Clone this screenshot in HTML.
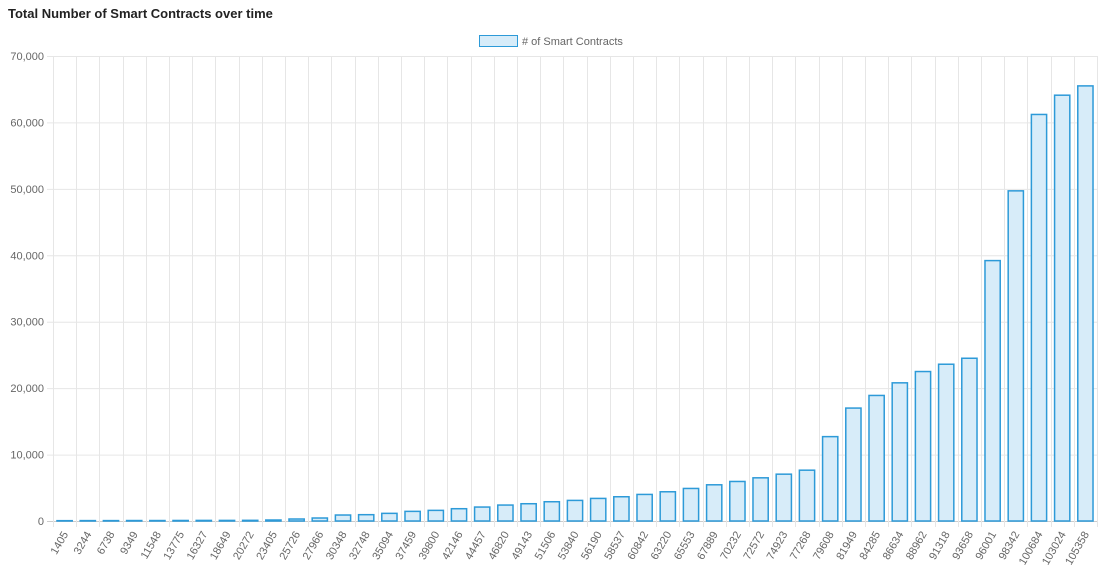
<!DOCTYPE html>
<html><head><meta charset="utf-8"><style>
body{margin:0;background:#fff;font-family:"Liberation Sans",sans-serif}
svg text{font-family:"Liberation Sans",sans-serif}
</style></head><body>
<svg id="chart" width="1100" height="568" xmlns="http://www.w3.org/2000/svg">
<text x="8" y="18" font-size="13" font-weight="bold" fill="#222">Total Number of Smart Contracts over time</text>
<g>
<rect x="479.5" y="35.5" width="38" height="11" fill="#d7ecf9" stroke="#2d9ad8" stroke-width="1"/>
<text x="522" y="45" font-size="11" fill="#666"># of Smart Contracts</text>
</g>
<g id="grid"></g><g id="bars"></g><g id="axes"></g>
</svg>
<script>
const categories=["1405","3244","6738","9349","11548","13775","16327","18649","20272","23405","25726","27966","30348","32748","35094","37459","39800","42146","44457","46820","49143","51506","53840","56190","58537","60842","63220","65553","67889","70232","72572","74923","77268","79608","81949","84285","86634","88962","91318","93658","96001","98342","100684","103024","105358"];
const values=[50,60,60,70,70,80,90,90,100,150,300,450,900,950,1150,1450,1600,1850,2100,2400,2600,2900,3100,3400,3650,4000,4400,4900,5450,5950,6500,7050,7650,12700,17000,18900,20800,22500,23600,24500,39200,49700,61200,64100,65500];
const yTicks=[0,10000,20000,30000,40000,50000,60000,70000];
const yTickLabels=["0","10,000","20,000","30,000","40,000","50,000","60,000","70,000"];
const NS="http://www.w3.org/2000/svg";
const L=53,R=1097,T=56,B=521,yMax=70000;
const y=v=>B-(v/yMax)*(B-T);
const bw=(R-L)/categories.length;
const x=i=>L+i*bw;
function mk(t,a,p){const e=document.createElementNS(NS,t);for(const k in a)e.setAttribute(k,a[k]);p.appendChild(e);return e;}
const g=document.getElementById('grid'),b=document.getElementById('bars'),ax=document.getElementById('axes');
yTicks.forEach((v,i)=>{
 const ln=mk('line',{x1:L-6,x2:R,y1:y(v)+.5,y2:y(v)+.5,stroke:i==0?'#ccc':'#e6e6e6'},g);
 
 
 const t=mk('text',{x:L-9,y:y(v)+4,'text-anchor':'end','font-size':11,fill:'#666'},ax);
 t.textContent=yTickLabels[i];
 
 
});
for(let i=0;i<=categories.length;i++){
 const ln=mk('line',{x1:Math.round(x(i))+.5,x2:Math.round(x(i))+.5,y1:T,y2:B+6,stroke:'#e6e6e6'},g);
 
 
}
categories.forEach((c,i)=>{
 const w=bw*0.7,bx=x(i)+(bw-w)/2,top=y(values[i]);
 const r=mk('rect',{x:bx+.5,y:top,width:w-1,height:Math.max(B-top,0),fill:'#d7ecf9',stroke:'#2d9ad8','stroke-width':1.5},b);
 
 
 const cx=x(i)+bw/2+4;
 const t=mk('text',{x:cx,y:B+13,'text-anchor':'end','font-size':11,fill:'#666',transform:`rotate(-60 ${cx} ${B+13})`},ax);
 t.textContent=c;
 
 
});
</script>
</body></html>
